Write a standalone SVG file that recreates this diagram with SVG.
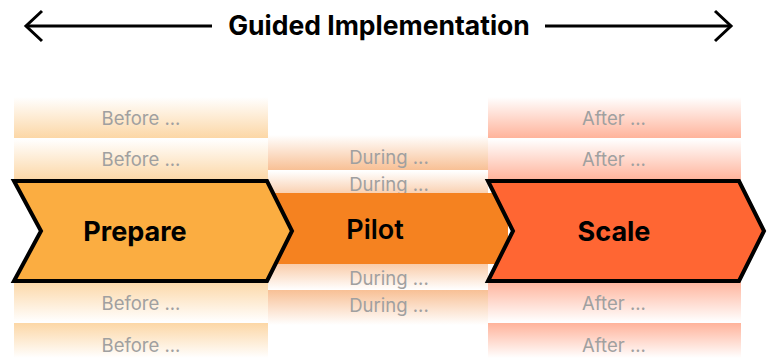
<svg xmlns="http://www.w3.org/2000/svg" width="767" height="358" viewBox="0 0 767 358">
<defs>
<linearGradient id="gBd" x1="0" y1="0" x2="0" y2="1"><stop offset="0" stop-color="#fff"/><stop offset="1" stop-color="#fcd7a6"/></linearGradient>
<linearGradient id="gBu" x1="0" y1="1" x2="0" y2="0"><stop offset="0" stop-color="#fff"/><stop offset="1" stop-color="#fcd7a6"/></linearGradient>
<linearGradient id="gDd" x1="0" y1="0" x2="0" y2="1"><stop offset="0" stop-color="#fff"/><stop offset="1" stop-color="#f8c095"/></linearGradient>
<linearGradient id="gDu" x1="0" y1="1" x2="0" y2="0"><stop offset="0" stop-color="#fff"/><stop offset="1" stop-color="#f8c095"/></linearGradient>
<linearGradient id="gAd" x1="0" y1="0" x2="0" y2="1"><stop offset="0" stop-color="#fff"/><stop offset="1" stop-color="#ffb39b"/></linearGradient>
<linearGradient id="gAu" x1="0" y1="1" x2="0" y2="0"><stop offset="0" stop-color="#fff"/><stop offset="1" stop-color="#ffb39b"/></linearGradient>
</defs>
<style>
.sub{font-family:Inter,"Liberation Sans",sans-serif;font-size:18.5px;fill:#a0a0a0;text-anchor:middle;dominant-baseline:central}
.lbl{font-family:Inter,"Liberation Sans",sans-serif;font-size:27px;font-weight:700;fill:#000;text-anchor:middle;dominant-baseline:central}
.chev{stroke:#000;stroke-width:4;stroke-linejoin:miter}
.ar{fill:none;stroke:#000;stroke-width:3}
</style>
<g id="title">
<g class="connectors">
<line class="ar" x1="26" y1="26" x2="212" y2="26"/>
<polyline class="ar" points="42,11 26,26 42,41"/>
<line class="ar" x1="545" y1="26" x2="731" y2="26"/>
<polyline class="ar" points="715,11 731,26 715,41"/>
</g>
<text x="379" y="25" style="font-family:Inter,'Liberation Sans',sans-serif;font-size:26.5px;font-weight:700;text-anchor:middle;dominant-baseline:central">Guided Implementation</text>
</g>
<g id="before">
<rect x="14" y="97" width="254" height="41" fill="url(#gBd)"/>
<text class="sub" x="141" y="118">Before ...</text>
<rect x="14" y="139" width="254" height="41" fill="url(#gBd)"/>
<text class="sub" x="141" y="159">Before ...</text>
<rect x="14" y="281" width="254" height="41" fill="url(#gBu)"/>
<text class="sub" x="141" y="303">Before ...</text>
<rect x="14" y="323" width="254" height="35" fill="url(#gBu)"/>
<text class="sub" x="141" y="345">Before ...</text>
</g>
<g id="during">
<rect x="268" y="135" width="220" height="35" fill="url(#gDd)"/>
<text class="sub" x="389" y="157">During ...</text>
<rect x="268" y="171" width="220" height="30" fill="url(#gDd)"/>
<text class="sub" x="389" y="184">During ...</text>
<rect x="268" y="258" width="220" height="32" fill="url(#gDu)"/>
<text class="sub" x="389" y="278">During ...</text>
<rect x="268" y="290" width="220" height="35" fill="url(#gDu)"/>
<text class="sub" x="389" y="305">During ...</text>
</g>
<g id="after">
<rect x="488" y="97" width="253" height="41" fill="url(#gAd)"/>
<text class="sub" x="614" y="118">After ...</text>
<rect x="488" y="139" width="253" height="41" fill="url(#gAd)"/>
<text class="sub" x="614" y="159">After ...</text>
<rect x="488" y="281" width="253" height="41" fill="url(#gAu)"/>
<text class="sub" x="614" y="303">After ...</text>
<rect x="488" y="323" width="253" height="35" fill="url(#gAu)"/>
<text class="sub" x="614" y="345">After ...</text>
</g>
<g id="pilot">
<rect x="268" y="193" width="240" height="71" fill="#f58220"/>
<text class="lbl" x="375" y="229" style="font-weight:600">Pilot</text>
</g>
<g id="prepare">
<polygon class="chev" fill="#fbad41" points="14,181 267,181 292,231 267,281 14,281 41,231"/>
<text class="lbl" x="135" y="231">Prepare</text>
</g>
<g id="scale">
<polygon class="chev" fill="#ff6633" points="488,181 739,181 764,231 739,281 488,281 513,231"/>
<text class="lbl" x="614" y="231">Scale</text>
</g>
</svg>
